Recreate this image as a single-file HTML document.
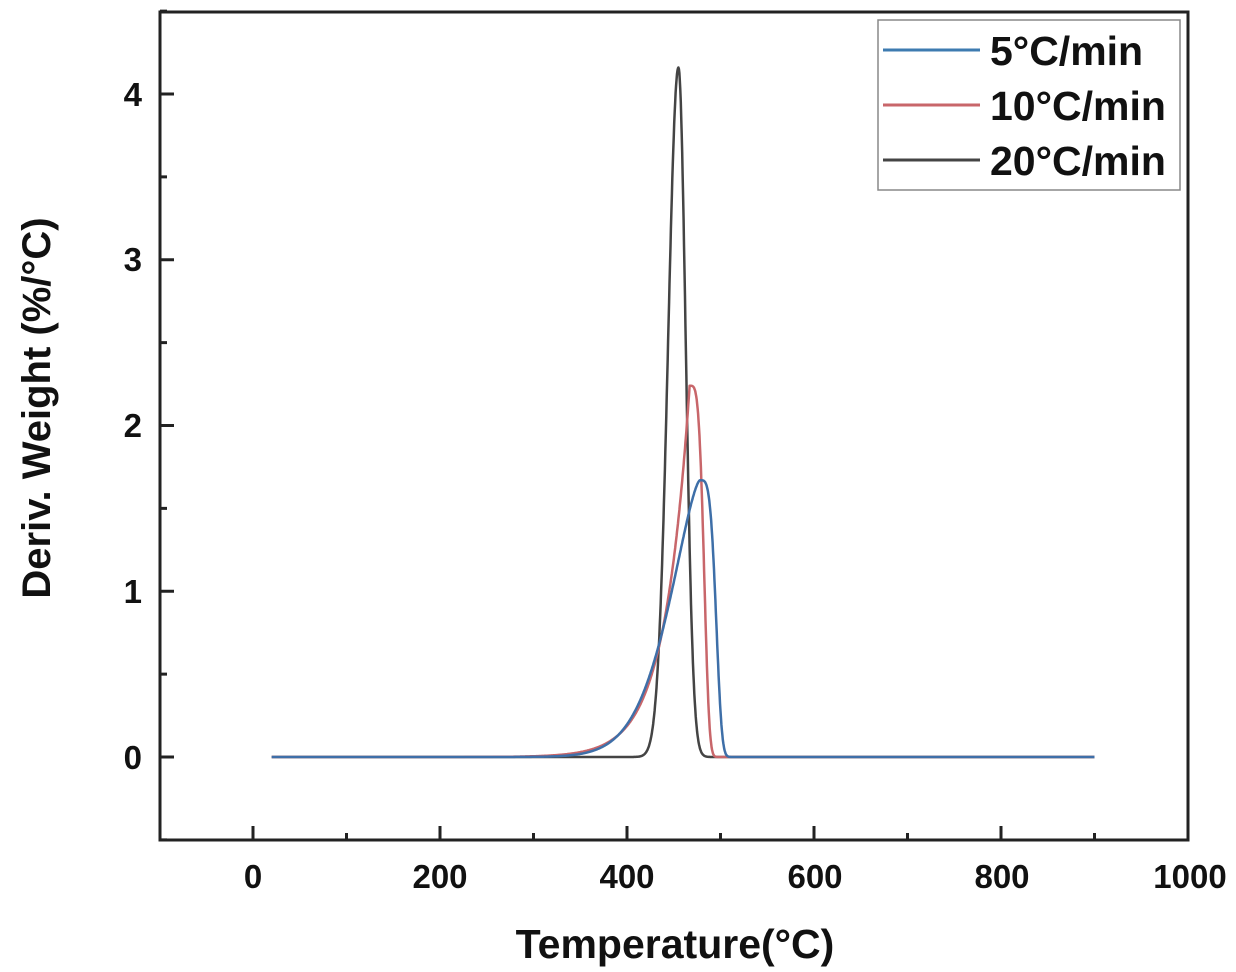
<!DOCTYPE html>
<html><head><meta charset="utf-8"><style>
html,body{margin:0;padding:0;background:#fff;}
svg{display:block;font-family:"Liberation Sans",Arial,sans-serif;font-weight:bold;}
</style></head><body>
<svg id="s" width="1236" height="972" viewBox="0 0 1236 972">
<rect x="160" y="12" width="1028" height="828" fill="none" stroke="#222" stroke-width="3"/>
<g id="ticks" stroke="#222" stroke-width="3"></g>
<g font-size="33" fill="#111" text-anchor="middle">
<text x="253" y="888">0</text><text x="440" y="888">200</text><text x="627" y="888">400</text>
<text x="815" y="888">600</text><text x="1002" y="888">800</text><text x="1190" y="888">1000</text>
</g>
<g font-size="33" fill="#111" text-anchor="end">
<text x="142" y="769">0</text><text x="142" y="603">1</text><text x="142" y="437">2</text>
<text x="142" y="271">3</text><text x="142" y="106">4</text>
</g>
<text x="675" y="958" font-size="41" text-anchor="middle" fill="#111">Temperature(°C)</text>
<text transform="translate(50,408) rotate(-90)" font-size="40" text-anchor="middle" fill="#111">Deriv. Weight (%/°C)</text>
<g id="curves" fill="none" stroke-width="2.5" stroke-linejoin="round"></g>
<rect x="878" y="20" width="302" height="170" fill="#fff" stroke="#888" stroke-width="1.5"/>
<line x1="883" y1="50" x2="980" y2="50" stroke="#3e7bb0" stroke-width="3"/>
<line x1="883" y1="105" x2="980" y2="105" stroke="#c8666a" stroke-width="3"/>
<line x1="883" y1="160" x2="980" y2="160" stroke="#444" stroke-width="3"/>
<g font-size="41" fill="#111">
<text x="990" y="65">5°C/min</text><text x="990" y="120">10°C/min</text><text x="990" y="175">20°C/min</text>
</g>
</svg>
<script>
var X=function(t){return 253+t*0.935},Y=function(v){return 757-v*165.75};
var tk=document.getElementById('ticks'),h='';
for(var t=0;t<=1000;t+=100){var L=(t%200==0)?14:7;h+='<line x1="'+X(t)+'" y1="840" x2="'+X(t)+'" y2="'+(840-L)+'"/>';}
for(var v=-0.5;v<=4.5;v+=0.5){var L=(Math.abs(v-Math.round(v))<1e-6)?14:7;h+='<line x1="160" y1="'+Y(v)+'" x2="'+(160+L)+'" y2="'+Y(v)+'"/>';}
tk.innerHTML=h;
function curve(pk,tp,w,p,fw,fp,col){var d='';for(var t=20;t<=900;t+=0.5){var v;
 v=t<tp?pk*Math.exp(-Math.pow((tp-t)/w,p)):pk*Math.exp(-Math.pow((t-tp)/fw,fp));
 d+=(d?'L':'M')+X(t).toFixed(1)+' '+Y(v).toFixed(1);}
 return '<path d="'+d+'" stroke="'+col+'"/>';}
document.getElementById('curves').innerHTML=
 curve(4.16,455,15.5,2,11,2,'#444')+
 curve(2.24,467,27,1,17,4,'#c8666a')+
 curve(1.67,478,47,1.5,19,4,'#3e6fa8');
</script>
</body></html>
